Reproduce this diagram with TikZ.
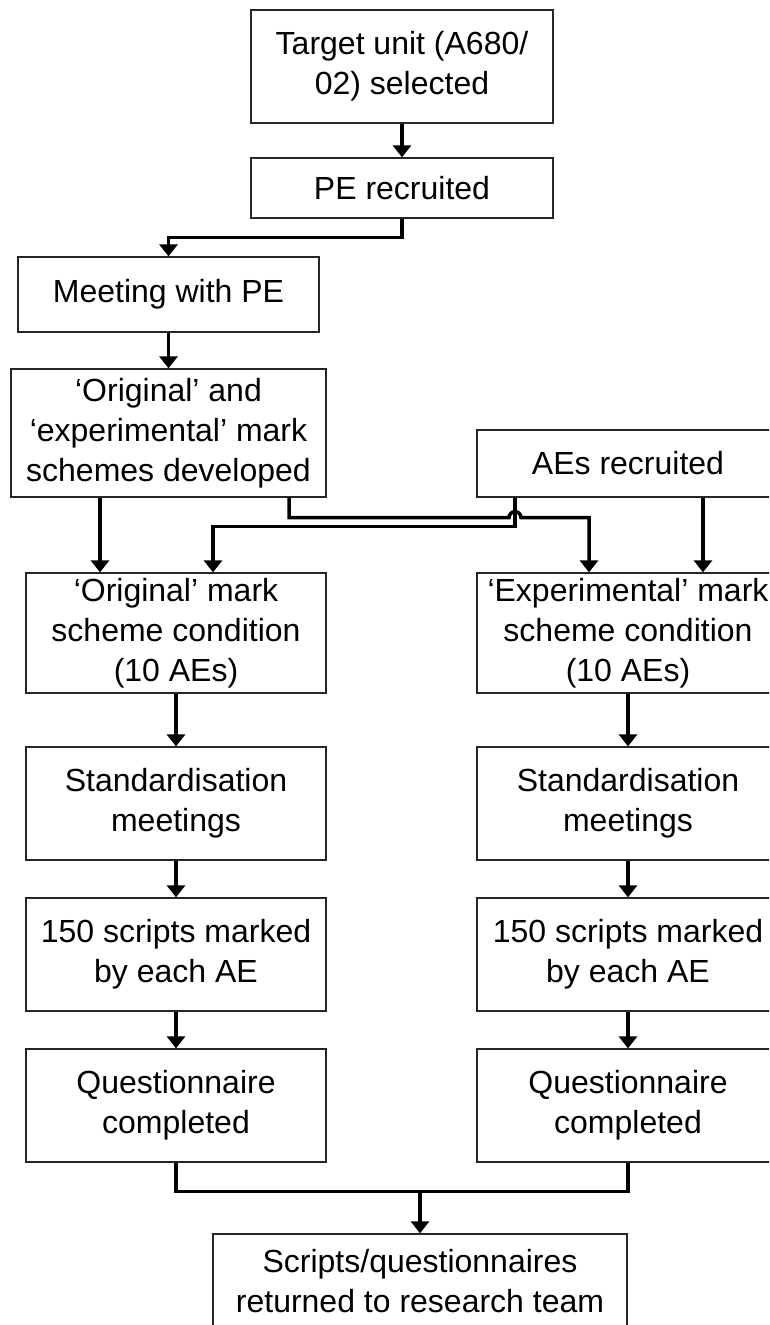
\documentclass[tikz,border=0pt]{standalone}
\usepackage{fontspec}
\setmainfont{Liberation Sans}
\usetikzlibrary{arrows.meta,calc}

\tikzset{
    stage/.style={draw=black!85,line width=1.3pt,rectangle,align=center,inner sep=0pt,
        font=\fontsize{32}{40}\selectfont},
    flow/.style={line width=3.5pt,-{Triangle[width=18pt,length=12pt]}},
    link/.style={line width=3.5pt}
}

\begin{document}
\begin{tikzpicture}[x=1pt,y=-1pt]
    \pgfmathsetmacro{\colL}{176}
    \pgfmathsetmacro{\colR}{628}
    \pgfmathsetmacro{\boxw}{300}
    \pgfmathsetmacro{\boxh}{113}
    \useasboundingbox (0,0) rectangle (769,1325);
    \clip (0,0) rectangle (769,1325);
    % top part, one column
    \node[stage,minimum width=302pt,minimum height=113pt] (target) at (402,66.5) {Target unit (A680/\\02) selected};
    \node[stage,minimum width=302pt,minimum height=60pt] (pe) at (402,188) {PE recruited};
    \node[stage,minimum width=301pt,minimum height=75pt] (meet) at (168.5,294.5) {Meeting with PE};
    \node[stage,minimum width=315pt,minimum height=128pt] (schemes) at (168.5,433) {‘Original’ and\\‘experimental’ mark\\schemes developed};
    \node[stage,minimum width=302pt,minimum height=67pt] (aes) at (\colR,463.5) {AEs recruited};
    % the two conditions
    \node[stage,minimum width=\boxw pt,minimum height=120pt] (origcond) at (\colL,633) {‘Original’ mark\\scheme condition\\(10 AEs)};
    \node[stage,minimum width=302pt,minimum height=120pt] (expcond) at (\colR,633) {‘Experimental’ mark\\scheme condition\\(10 AEs)};
    \node[stage,minimum width=\boxw pt,minimum height=\boxh pt] (stdL) at (\colL,803.5) {Standardisation\\meetings};
    \node[stage,minimum width=302pt,minimum height=\boxh pt] (stdR) at (\colR,803.5) {Standardisation\\meetings};
    \node[stage,minimum width=\boxw pt,minimum height=\boxh pt] (markL) at (\colL,954.5) {150 scripts marked\\by each AE};
    \node[stage,minimum width=302pt,minimum height=\boxh pt] (markR) at (\colR,954.5) {150 scripts marked\\by each AE};
    \node[stage,minimum width=\boxw pt,minimum height=\boxh pt] (questL) at (\colL,1105.5) {Questionnaire\\completed};
    \node[stage,minimum width=302pt,minimum height=\boxh pt] (questR) at (\colR,1105.5) {Questionnaire\\completed};
    \node[stage,minimum width=414pt,minimum height=94pt] (final) at (420,1281) {Scripts/questionnaires\\returned to research team};

    \coordinate (aesL) at ([xshift=-113pt]aes.south);
    \coordinate (expL) at ([xshift=-39pt]expcond.north);
    \coordinate (origR) at ([xshift=37pt]origcond.north);
    \coordinate (origL) at ([xshift=-76pt]origcond.north);
    \coordinate (schR) at ([xshift=120.5pt]schemes.south);

    \draw[flow] (target) -- (pe);
    \draw[flow] (pe.south) -- ++(0,19) -| (meet.north);
    \draw[flow] (meet) -- (schemes);
    \draw[flow] (schemes.south -| origL) -- (origL);
    \draw[flow] (schR) -- ++(0,20) coordinate (bend)
        -- ($(bend -| aesL)+(-6,0)$) arc[start angle=180,end angle=0,radius=6pt] -| (expL);
    \draw[flow] (aesL) -- ++(0,29) -| (origR);
    \draw[flow] ([xshift=75pt]aes.south) -- ([xshift=75pt]expcond.north);
    \foreach \a/\b in {origcond/stdL,stdL/markL,markL/questL,expcond/stdR,stdR/markR,markR/questR}
        \draw[flow] (\a.south) -- (\b.north);
    \draw[link] (questL.south) -- ++(0,29) coordinate (joinL) -- (joinL -| questR.south) -- (questR.south);
    \draw[flow] (joinL -| final.north) -- (final.north);
\end{tikzpicture}
\end{document}
